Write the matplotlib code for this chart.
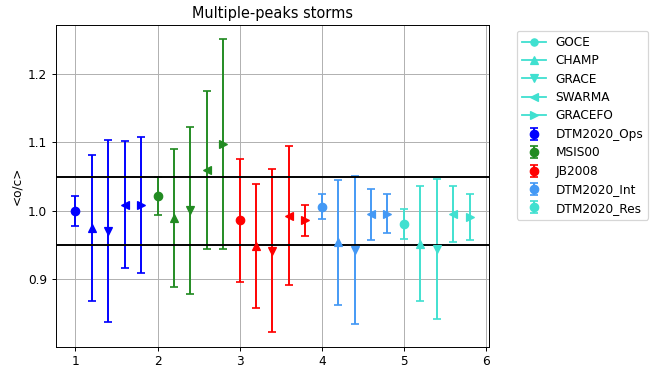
import matplotlib
matplotlib.use("Agg")
import matplotlib.pyplot as plt

# satellites, one marker each
satellites = ["GOCE", "CHAMP", "GRACE", "SWARMA", "GRACEFO"]
markers = ["o", "^", "v", "<", ">"]

models = ["DTM2020_Ops", "MSIS00", "JB2008", "DTM2020_Int", "DTM2020_Res"]
colors = ["blue", "forestgreen", "red", "#4499f5", "turquoise"]

# mean o/c per model (rows) and satellite (columns)
mean_oc = [
    [1.000, 0.975, 0.971, 1.009, 1.009],
    [1.022, 0.990, 1.001, 1.060, 1.097],
    [0.986, 0.949, 0.942, 0.993, 0.986],
    [1.006, 0.954, 0.943, 0.995, 0.996],
    [0.981, 0.952, 0.944, 0.996, 0.991],
]
# standard deviation of o/c
std_oc = [
    [0.022, 0.107, 0.133, 0.093, 0.099],
    [0.028, 0.101, 0.122, 0.115, 0.153],
    [0.089, 0.090, 0.119, 0.101, 0.023],
    [0.018, 0.091, 0.108, 0.037, 0.028],
    [0.022, 0.084, 0.102, 0.041, 0.033],
]


def show_graph():
    """Draw the o/c error bars for every model and satellite"""
    dpi = 87
    fig = plt.figure(figsize=(655 / dpi, 371 / dpi), dpi=dpi)
    ax = fig.add_axes([0.085, 0.065, 0.662, 0.868])

    # legend entries for the satellites
    for sat, mk in zip(satellites, markers):
        ax.plot([], [], color="turquoise", marker=mk, label=sat)

    for i, (model, col) in enumerate(zip(models, colors)):
        for j, mk in enumerate(markers):
            x = 1 + i + 0.2 * j
            ax.errorbar(x, mean_oc[i][j], yerr=std_oc[i][j], fmt=mk,
                        color=col, capsize=3, markersize=7, elinewidth=1.6,
                        capthick=1.4,
                        label=model if j == 0 else None)

    ax.axhline(1.05, color="black", linewidth=1.6)
    ax.axhline(0.95, color="black", linewidth=1.6)
    ax.grid(True)
    ax.set_title("Multiple-peaks storms")
    ax.set_ylabel("<o/c>")
    ax.legend(bbox_to_anchor=(1.05, 1.0), loc="upper left", labelspacing=0.45)
    fig.savefig("out.png", dpi=dpi)


def main():
    """Main function of the program"""
    show_graph()


if __name__ == "__main__":
    main()
